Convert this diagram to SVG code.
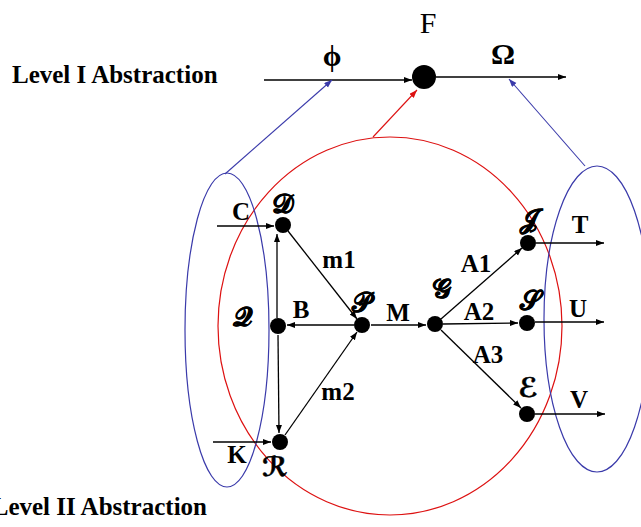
<svg xmlns="http://www.w3.org/2000/svg" width="641" height="527" viewBox="0 0 641 527">
<style>
.lbl{font-family:"Liberation Serif","Times New Roman",serif;font-weight:bold;font-size:25px;fill:#000}
.lvl{font-family:"Liberation Serif","Times New Roman",serif;font-weight:bold;font-size:25px;fill:#000}
.scr{font-family:"DejaVu Serif","DejaVu Sans","Liberation Serif",serif;font-weight:bold;font-size:27px;fill:#000;stroke:#000;stroke-width:0.5}
.big{font-family:"Liberation Serif","Times New Roman",serif;font-size:30px;fill:#000}
.node{fill:#000}
.e{stroke:#000;stroke-width:1.3;fill:none;marker-end:url(#ah)}
.eb{stroke:#3a3aaa;stroke-width:1.1;fill:none;marker-end:url(#ahb)}
.er{stroke:#dd1111;stroke-width:1.1;fill:none;marker-end:url(#ahr)}
</style>
<defs>
<marker id="ah" markerUnits="userSpaceOnUse" markerWidth="9" markerHeight="7" refX="8" refY="3" orient="auto"><path d="M0,0 L8,3 L0,6 z" fill="#000"/></marker>
<marker id="ahb" markerUnits="userSpaceOnUse" markerWidth="9" markerHeight="7" refX="8" refY="3" orient="auto"><path d="M0,0 L8,3 L0,6 z" fill="#3a3aaa"/></marker>
<marker id="ahr" markerUnits="userSpaceOnUse" markerWidth="9" markerHeight="7" refX="8" refY="3" orient="auto"><path d="M0,0 L8,3 L0,6 z" fill="#dd1111"/></marker>
</defs>
<rect width="641" height="527" fill="#fff"/>
<g id="frames">
<ellipse cx="390" cy="326" rx="172" ry="189" fill="none" stroke="#dd1111" stroke-width="1.2"/>
<ellipse cx="227" cy="330" rx="42" ry="157" fill="none" stroke="#3a3aaa" stroke-width="1.2"/>
<ellipse cx="597" cy="319" rx="53" ry="153" fill="none" stroke="#3a3aaa" stroke-width="1.2"/>
</g>
<text class="lvl" x="12" y="83">Level I Abstraction</text>
<text class="lvl" x="207" y="515" text-anchor="end">Level II Abstraction</text>
<g id="connectors">
<line class="e" x1="264" y1="80" x2="412" y2="80"/>
<line class="e" x1="436" y1="77" x2="566" y2="77"/>
<line class="eb" x1="225" y1="174" x2="332" y2="80"/>
<line class="eb" x1="585" y1="166" x2="509" y2="79"/>
<line class="er" x1="373" y1="137" x2="417" y2="90"/>
<line class="e" x1="217" y1="226" x2="274" y2="226"/>
<line class="e" x1="277" y1="318" x2="277" y2="234"/>
<line class="e" x1="278" y1="335" x2="279" y2="433"/>
<line class="e" x1="288" y1="231" x2="357" y2="319"/>
<line class="e" x1="354" y1="325" x2="287" y2="325"/>
<line class="e" x1="285" y1="435" x2="357" y2="332"/>
<line class="e" x1="213" y1="442" x2="271" y2="442"/>
<line class="e" x1="371" y1="325" x2="426" y2="325"/>
<line class="e" x1="441" y1="319" x2="522" y2="248"/>
<line class="e" x1="443" y1="324" x2="518" y2="323"/>
<line class="e" x1="441" y1="330" x2="521" y2="408"/>
<line class="e" x1="536" y1="243" x2="604" y2="243"/>
<line class="e" x1="535" y1="322" x2="604" y2="322"/>
<line class="e" x1="535" y1="414" x2="605" y2="414"/>
</g>
<g id="F"><circle class="node" cx="424" cy="77" r="12"/><text class="big" x="428" y="33" text-anchor="middle">F</text></g>
<text class="big" x="332" y="66" text-anchor="middle" font-size="34" font-weight="bold">ϕ</text>
<text class="big" x="503" y="64" text-anchor="middle" font-weight="bold" font-size="32">Ω</text>
<g id="D"><circle class="node" cx="283" cy="225" r="8"/><text class="scr" x="283" y="213" text-anchor="middle">𝒟</text></g>
<g id="B"><circle class="node" cx="278" cy="326" r="8"/><text class="lbl" x="301" y="318" text-anchor="middle">B</text></g>
<g id="P"><circle class="node" cx="362" cy="325" r="8"/><text class="scr" x="361" y="312" text-anchor="middle">𝒫</text></g>
<g id="R"><circle class="node" cx="280" cy="442" r="8"/><text class="scr" x="275" y="476" text-anchor="middle">ℛ</text></g>
<g id="G"><circle class="node" cx="435" cy="324" r="8"/><text class="scr" x="441" y="298" text-anchor="middle">𝒢</text></g>
<g id="J"><circle class="node" cx="528" cy="243" r="8"/><text class="scr" x="529" y="228" text-anchor="middle">𝒥</text></g>
<g id="S"><circle class="node" cx="527" cy="323" r="8"/><text class="scr" x="530" y="310" text-anchor="middle">𝒮</text></g>
<g id="E"><circle class="node" cx="527" cy="414" r="8"/><text class="scr" x="528" y="397" text-anchor="middle">ℰ</text></g>
<g id="labels">
<text class="lbl" x="241" y="220" text-anchor="middle">C</text>
<text class="scr" x="242" y="326" text-anchor="middle">𝒬</text>
<text class="lbl" x="339" y="268" text-anchor="middle">m1</text>
<text class="lbl" x="338" y="400" text-anchor="middle">m2</text>
<text class="lbl" x="237" y="463" text-anchor="middle">K</text>
<text class="lbl" x="398" y="321" text-anchor="middle">M</text>
<text class="lbl" x="476" y="272" text-anchor="middle">A1</text>
<text class="lbl" x="479" y="320" text-anchor="middle">A2</text>
<text class="lbl" x="488" y="363" text-anchor="middle">A3</text>
<text class="lbl" x="580" y="233" text-anchor="middle">T</text>
<text class="lbl" x="578" y="317" text-anchor="middle">U</text>
<text class="lbl" x="579" y="408" text-anchor="middle">V</text>
</g>
</svg>
